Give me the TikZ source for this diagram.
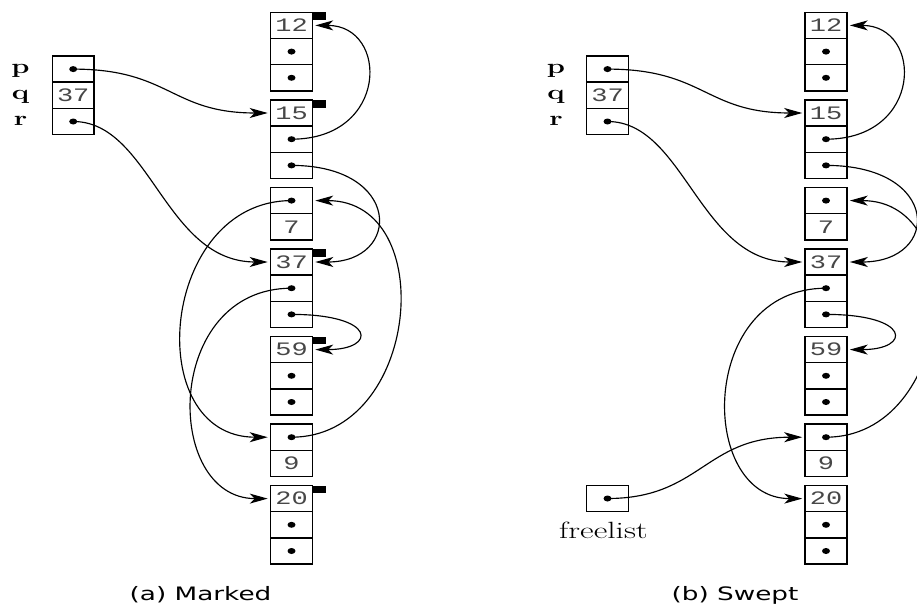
\documentclass[tikz,border=0pt]{standalone}
\usepackage{fontspec}
\usepackage{graphicx}
\newfontfamily\numfont{Liberation Mono}
\newfontfamily\capfont{DejaVu Sans}
\usetikzlibrary{arrows.meta}
\newcommand\hs[1]{\scalebox{1.42}[1]{#1}}
\newcommand\numtxt[1]{\hs{\numfont\fontsize{19}{19}\selectfont\color{black!72}#1}}
\newcommand\ptrcell[3]{\node[cell] (#1) at (#2,#3) {}; \fill (#1.center) ellipse [x radius=4pt, y radius=3pt];}
\newcommand\valcell[4]{\node[cell] (#1) at (#2,#3) {\numtxt{#4}};}
\newcommand\lbltxt[1]{\hs{\bfseries\fontsize{20.5}{22}\selectfont #1}}
\newcommand\captxt[1]{\hs{\capfont\fontsize{18.5}{20}\selectfont #1}}
\begin{document}
\begin{tikzpicture}[x=1pt,y=-1pt,
 cell/.style={draw, line width=1.45pt, minimum width=41.6pt, minimum height=26.2pt, inner sep=0pt, outer sep=0pt},
 ptr/.style={line width=1.15pt, -{Stealth[length=18pt,width=10pt,inset=5pt]}, shorten >=3pt},
 markbit/.style={fill=black},
 lbl/.style={anchor=base, inner sep=0pt, outer sep=0pt},
]
\useasboundingbox (0,0) rectangle (917,607);
\fill[white] (0,0) rectangle (917,607);
\clip (0,0) rectangle (917,607);

% ---------------- left panel: Marked ----------------
\ptrcell{Lr0}{73.2}{69.1}
\valcell{Lr1}{73.2}{95.3}{37}
\ptrcell{Lr2}{73.2}{121.5}
\node[lbl] (Lp) at (20.5,73.5) {\lbltxt{p}};
\node[lbl] (Lq) at (20.5,99.7) {\lbltxt{q}};
\node[lbl] (Lrr) at (20.5,125.9) {\lbltxt{r}};

\valcell{L12x0}{291.5}{25.4}{12}
\ptrcell{L12x1}{291.5}{51.6}
\ptrcell{L12x2}{291.5}{77.8}
\valcell{L15x0}{291.5}{113.0}{15}
\ptrcell{L15x1}{291.5}{139.2}
\ptrcell{L15x2}{291.5}{165.4}
\ptrcell{L7x0}{291.5}{200.6}
\valcell{L7x1}{291.5}{226.8}{7}
\valcell{L37x0}{291.5}{262.0}{37}
\ptrcell{L37x1}{291.5}{288.2}
\ptrcell{L37x2}{291.5}{314.4}
\valcell{L59x0}{291.5}{349.6}{59}
\ptrcell{L59x1}{291.5}{375.8}
\ptrcell{L59x2}{291.5}{402.0}
\ptrcell{L9x0}{291.5}{437.2}
\valcell{L9x1}{291.5}{463.4}{9}
\valcell{L20x0}{291.5}{498.6}{20}
\ptrcell{L20x1}{291.5}{524.8}
\ptrcell{L20x2}{291.5}{551.0}

\foreach \n in {L12x0,L15x0,L37x0,L59x0,L20x0}
  \fill[markbit] (\n.north east) rectangle ++(13.3,7.7);

\draw[ptr] (Lr0.center) .. controls +(97,0) and +(-100,0) .. (L15x0.west);
\draw[ptr] (Lr2.center) .. controls +(77,0) and +(-106,0) .. (L37x0.west);
\draw[ptr] (L15x1.center) .. controls +(97.5,0) and +(76.7,0) .. (L12x0.east);
\draw[ptr] (L15x2.center) .. controls +(110.5,0) and +(89.7,0) .. (L37x0.east);
\draw[ptr] (L7x0.center) .. controls +(-131.5,0) and +(-130.7,0) .. (L9x0.west);
\draw[ptr] (L9x0.center) .. controls +(128.5,0) and +(127.7,0) .. (L7x0.east);
\draw[ptr] (L37x1.center) .. controls +(-128.5,0) and +(-107.7,0) .. (L20x0.west);
\draw[ptr] (L37x2.center) .. controls +(85.5,0) and +(64.7,0) .. (L59x0.east);

\node[lbl] (capa) at (200.5,600) {\captxt{(a) Marked}};

% ---------------- right panel: Swept ----------------
\ptrcell{Rr0}{607.5}{69.1}
\valcell{Rr1}{607.5}{95.3}{37}
\ptrcell{Rr2}{607.5}{121.5}
\node[lbl] (Rp) at (556,73.5) {\lbltxt{p}};
\node[lbl] (Rq) at (556,99.7) {\lbltxt{q}};
\node[lbl] (Rrr) at (556,125.9) {\lbltxt{r}};

\valcell{R12x0}{826}{25.4}{12}
\ptrcell{R12x1}{826}{51.6}
\ptrcell{R12x2}{826}{77.8}
\valcell{R15x0}{826}{113.0}{15}
\ptrcell{R15x1}{826}{139.2}
\ptrcell{R15x2}{826}{165.4}
\ptrcell{R7x0}{826}{200.6}
\valcell{R7x1}{826}{226.8}{7}
\valcell{R37x0}{826}{262.0}{37}
\ptrcell{R37x1}{826}{288.2}
\ptrcell{R37x2}{826}{314.4}
\valcell{R59x0}{826}{349.6}{59}
\ptrcell{R59x1}{826}{375.8}
\ptrcell{R59x2}{826}{402.0}
\ptrcell{R9x0}{826}{437.2}
\valcell{R9x1}{826}{463.4}{9}
\valcell{R20x0}{826}{498.6}{20}
\ptrcell{R20x1}{826}{524.8}
\ptrcell{R20x2}{826}{551.0}

\ptrcell{Rf}{607.5}{498.5}
\node[lbl] (Rfl) at (603.5,538.3) {\hs{\fontsize{23.5}{25}\selectfont freelist}};

\draw[ptr] (Rr0.center) .. controls +(97,0) and +(-100,0) .. (R15x0.west);
\draw[ptr] (Rr2.center) .. controls +(77,0) and +(-106,0) .. (R37x0.west);
\draw[ptr] (R15x1.center) .. controls +(97.5,0) and +(76.7,0) .. (R12x0.east);
\draw[ptr] (R15x2.center) .. controls +(115,0) and +(94.3,0) .. (R37x0.east);
\draw[ptr] (R9x0.center) .. controls +(128.5,0) and +(127.7,0) .. (R7x0.east);
\draw[ptr] (R37x1.center) .. controls +(-128.5,0) and +(-107.7,0) .. (R20x0.west);
\draw[ptr] (R37x2.center) .. controls +(85.5,0) and +(64.7,0) .. (R59x0.east);
\draw[ptr] (Rf.center) .. controls +(92.5,0) and +(-100.3,0) .. (R9x0.west);

\node[lbl] (capb) at (735,600) {\captxt{(b) Swept}};
\end{tikzpicture}
\end{document}
